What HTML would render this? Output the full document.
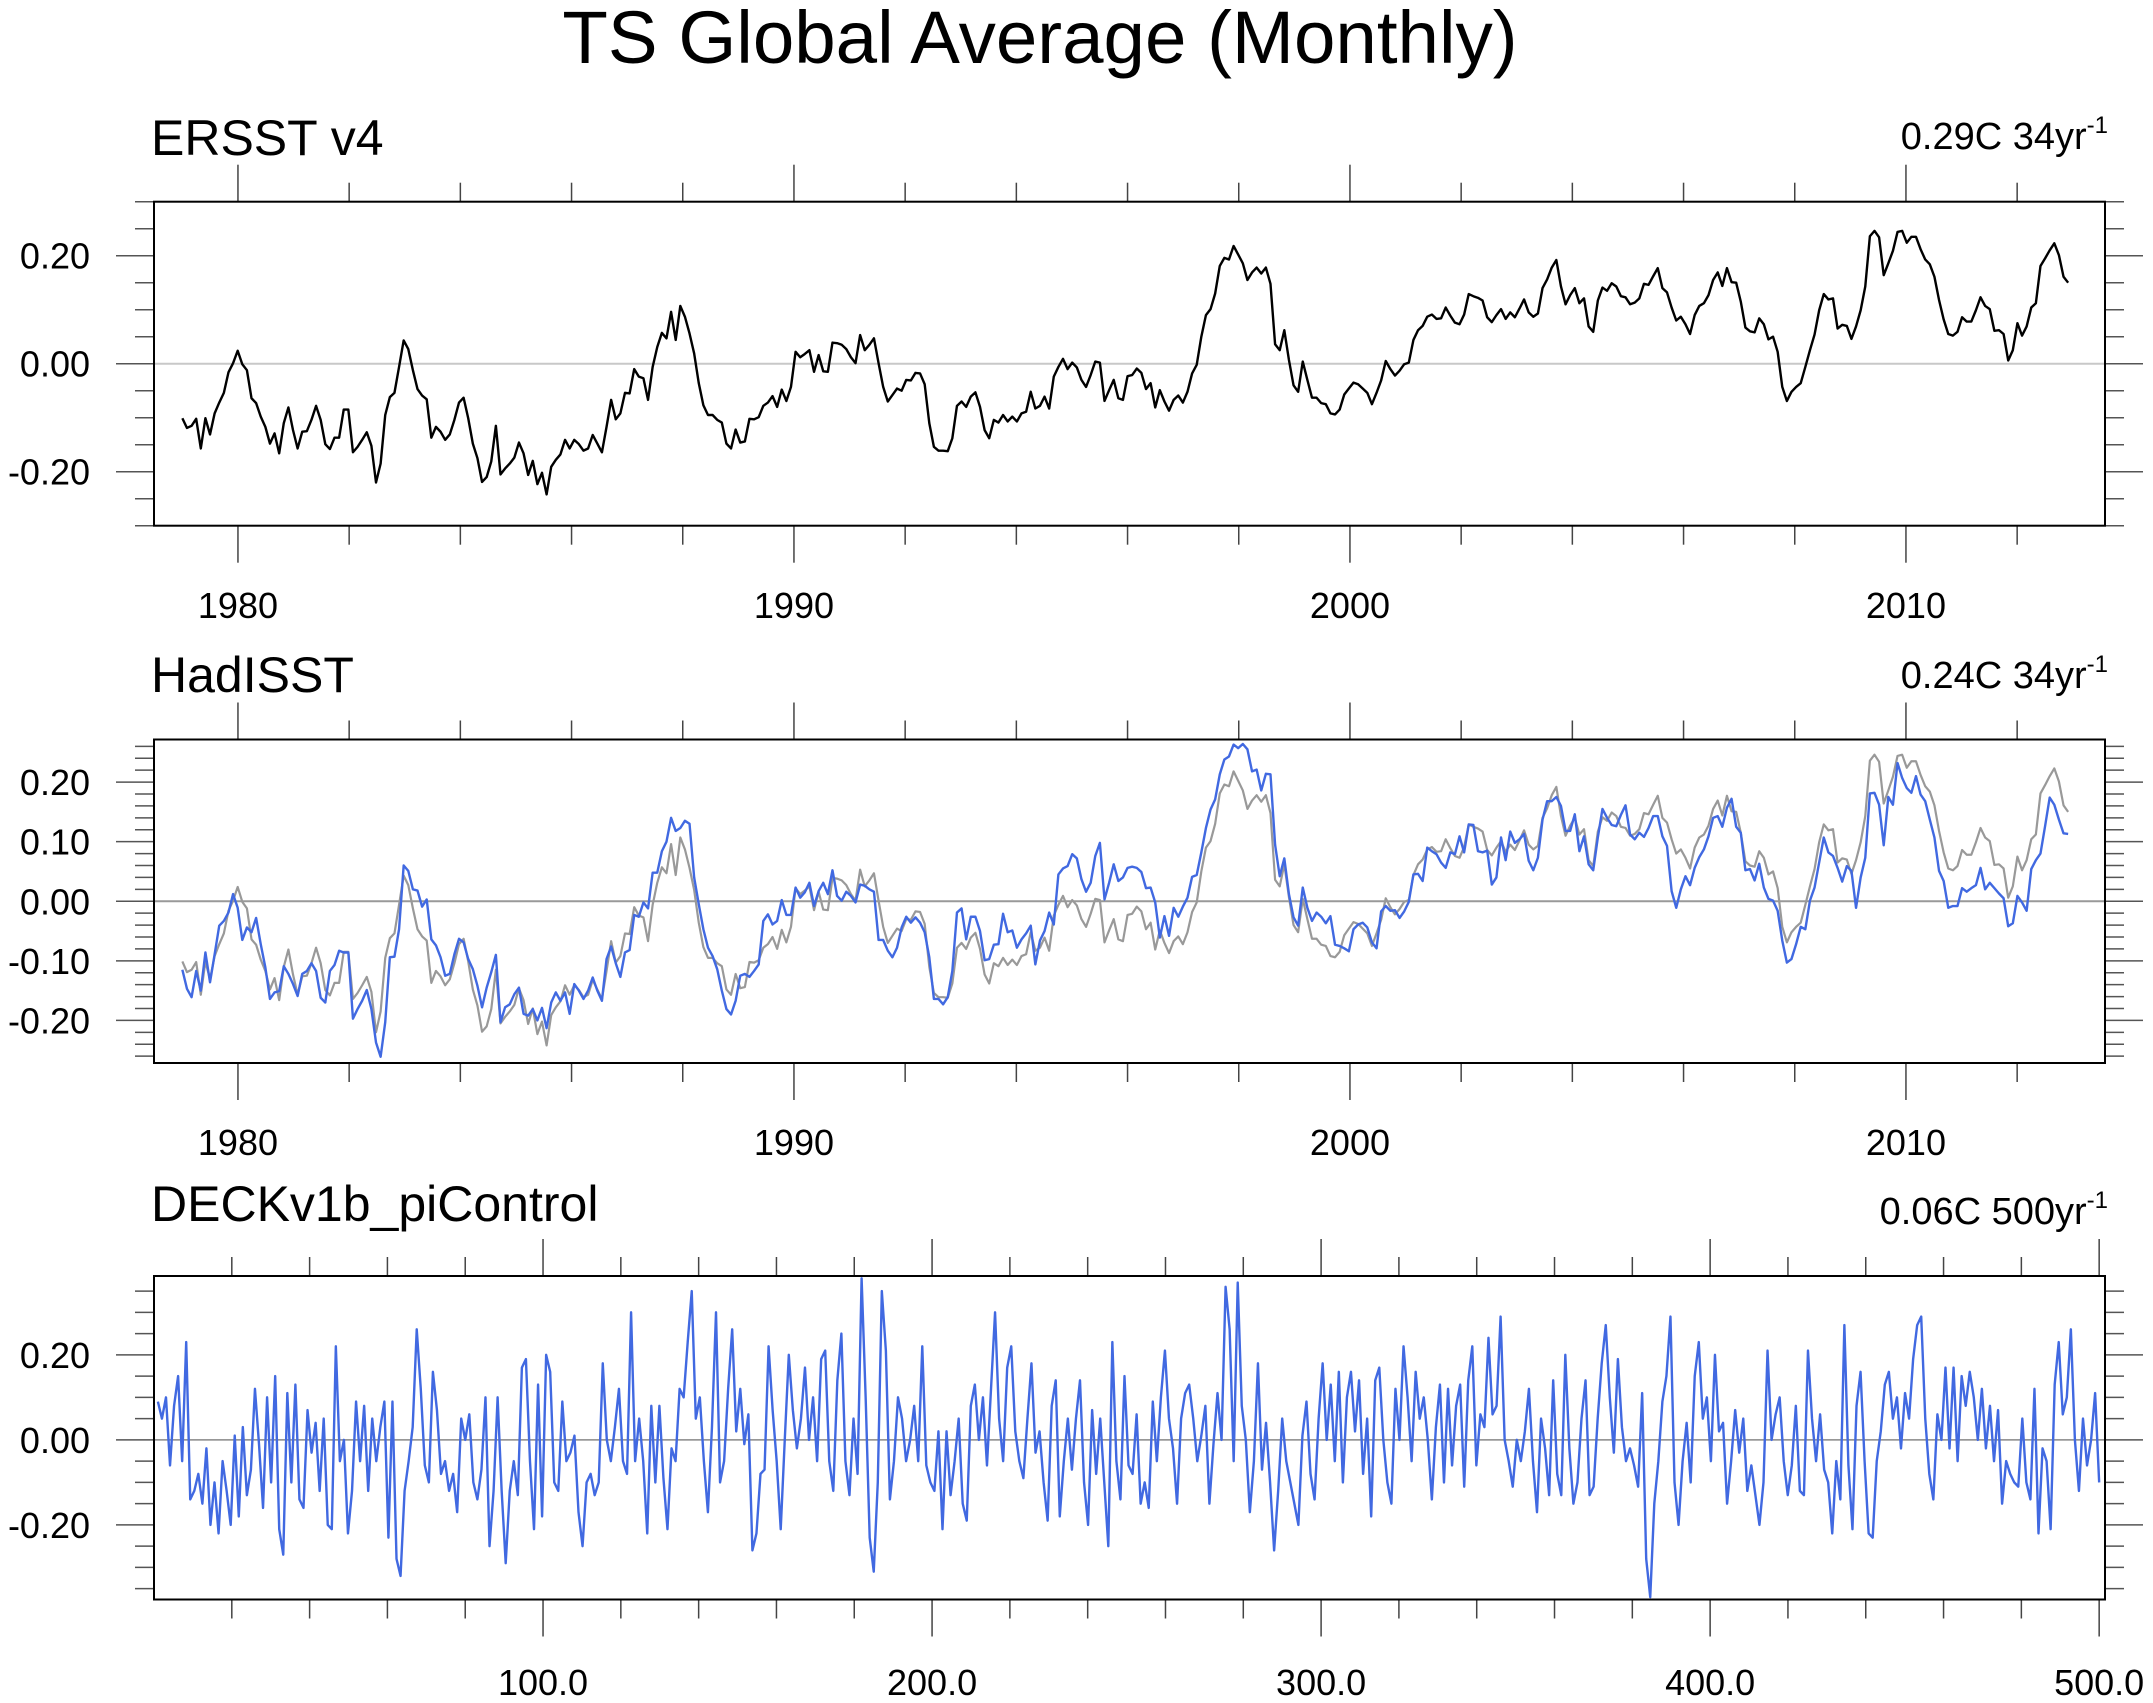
<!DOCTYPE html>
<html><head><meta charset="utf-8"><title>TS Global Average (Monthly)</title>
<style>
html,body{margin:0;padding:0;background:#fff;}
svg{display:block;font-family:"Liberation Sans",Arial,sans-serif;}
</style></head>
<body>
<svg id="chart" width="2153" height="1703" viewBox="0 0 2153 1703" xmlns="http://www.w3.org/2000/svg">
<rect x="0" y="0" width="2153" height="1703" fill="#fff"/>
<text x="1040" y="63" font-size="74.5" text-anchor="middle" fill="#000">TS Global Average (Monthly)</text>
<text x="151" y="155" font-size="50" fill="#000">ERSST v4</text>
<text x="2108" y="149" font-size="38" text-anchor="end" fill="#000">0.29C 34yr<tspan font-size="24" dy="-16">-1</tspan></text>
<text x="151" y="692" font-size="50" fill="#000">HadISST</text>
<text x="2108" y="688" font-size="38" text-anchor="end" fill="#000">0.24C 34yr<tspan font-size="24" dy="-16">-1</tspan></text>
<text x="151" y="1221" font-size="50" fill="#000">DECKv1b_piControl</text>
<text x="2108" y="1224" font-size="38" text-anchor="end" fill="#000">0.06C 500yr<tspan font-size="24" dy="-16">-1</tspan></text>
<g id="plots"></g>
</svg>
<script>
// ---- data ----
const ersstVals = [-0.101,-0.119,-0.115,-0.102,-0.157,-0.101,-0.131,-0.092,-0.072,-0.054,-0.016,0.001,0.024,-0.001,-0.012,-0.064,-0.073,-0.098,-0.117,-0.148,-0.129,-0.166,-0.110,-0.081,-0.123,-0.157,-0.126,-0.125,-0.104,-0.078,-0.104,-0.149,-0.158,-0.137,-0.137,-0.085,-0.085,-0.164,-0.154,-0.141,-0.127,-0.152,-0.220,-0.185,-0.095,-0.062,-0.054,-0.006,0.043,0.027,-0.012,-0.047,-0.059,-0.066,-0.137,-0.117,-0.126,-0.141,-0.131,-0.104,-0.072,-0.063,-0.101,-0.148,-0.175,-0.219,-0.210,-0.181,-0.115,-0.205,-0.194,-0.185,-0.174,-0.146,-0.166,-0.206,-0.180,-0.223,-0.202,-0.242,-0.191,-0.178,-0.168,-0.141,-0.157,-0.141,-0.149,-0.161,-0.157,-0.132,-0.148,-0.164,-0.117,-0.067,-0.103,-0.092,-0.054,-0.055,-0.010,-0.024,-0.027,-0.067,-0.006,0.031,0.057,0.047,0.096,0.044,0.107,0.087,0.056,0.019,-0.036,-0.077,-0.095,-0.095,-0.104,-0.109,-0.148,-0.157,-0.122,-0.146,-0.144,-0.102,-0.103,-0.099,-0.078,-0.072,-0.060,-0.080,-0.048,-0.069,-0.043,0.022,0.012,0.018,0.025,-0.015,0.016,-0.014,-0.015,0.039,0.038,0.035,0.027,0.012,0.001,0.053,0.025,0.035,0.047,0.001,-0.043,-0.070,-0.058,-0.046,-0.050,-0.030,-0.031,-0.017,-0.018,-0.038,-0.110,-0.154,-0.161,-0.161,-0.162,-0.138,-0.078,-0.070,-0.080,-0.061,-0.053,-0.080,-0.123,-0.138,-0.104,-0.109,-0.095,-0.107,-0.098,-0.107,-0.092,-0.089,-0.052,-0.083,-0.078,-0.061,-0.083,-0.024,-0.006,0.009,-0.010,0.002,-0.007,-0.030,-0.043,-0.021,0.004,0.002,-0.069,-0.049,-0.030,-0.064,-0.067,-0.023,
-0.021,-0.009,-0.017,-0.047,-0.036,-0.081,-0.049,-0.070,-0.087,-0.067,-0.059,-0.072,-0.052,-0.018,-0.002,0.050,0.090,0.101,0.130,0.181,0.196,0.193,0.218,0.202,0.186,0.155,0.169,0.178,0.167,0.178,0.148,0.036,0.025,0.062,0.007,-0.040,-0.052,0.004,-0.030,-0.063,-0.063,-0.073,-0.075,-0.092,-0.094,-0.085,-0.057,-0.046,-0.035,-0.038,-0.046,-0.054,-0.075,-0.054,-0.031,0.005,-0.010,-0.022,-0.013,-0.001,0.002,0.044,0.062,0.070,0.087,0.091,0.083,0.084,0.104,0.089,0.076,0.073,0.091,0.129,0.125,0.122,0.117,0.086,0.077,0.090,0.101,0.083,0.095,0.086,0.102,0.119,0.095,0.087,0.093,0.140,0.156,0.178,0.192,0.143,0.110,0.127,0.140,0.112,0.121,0.069,0.059,0.117,0.141,0.135,0.149,0.143,0.125,0.123,0.110,0.113,0.121,0.148,0.146,0.162,0.177,0.140,0.132,0.104,0.080,0.087,0.073,0.055,0.090,0.107,0.112,0.127,0.155,0.169,0.144,0.177,0.151,0.150,0.115,0.067,0.060,0.058,0.084,0.073,0.045,0.050,0.022,-0.043,-0.069,-0.052,-0.043,-0.036,-0.006,0.025,0.054,0.099,0.129,0.119,0.121,0.065,0.072,0.070,0.046,0.069,0.099,0.143,0.236,0.246,0.234,0.164,0.186,0.209,0.244,0.246,0.224,0.235,0.235,0.212,0.193,0.184,0.161,0.118,0.082,0.055,0.052,0.059,0.086,0.078,0.078,0.099,0.123,0.107,0.101,0.061,0.062,0.055,0.006,0.025,0.075,0.052,0.069,0.104,0.112,0.181,0.195,0.210,0.223,0.201,0.161,0.150];

const hadVals = [-0.115,-0.147,-0.161,-0.117,-0.150,-0.086,-0.136,-0.089,-0.041,-0.033,-0.019,0.012,-0.011,-0.065,-0.044,-0.052,-0.028,-0.072,-0.111,-0.164,-0.153,-0.151,-0.109,-0.122,-0.139,-0.159,-0.122,-0.117,-0.104,-0.117,-0.162,-0.170,-0.117,-0.107,-0.083,-0.086,-0.086,-0.197,-0.181,-0.167,-0.149,-0.181,-0.237,-0.261,-0.203,-0.094,-0.093,-0.047,0.060,0.051,0.020,0.018,-0.009,0.003,-0.064,-0.074,-0.094,-0.125,-0.122,-0.089,-0.063,-0.069,-0.097,-0.114,-0.142,-0.178,-0.145,-0.119,-0.090,-0.203,-0.178,-0.173,-0.156,-0.145,-0.189,-0.192,-0.181,-0.200,-0.179,-0.213,-0.170,-0.153,-0.167,-0.153,-0.189,-0.139,-0.150,-0.164,-0.150,-0.128,-0.150,-0.167,-0.097,-0.076,-0.104,-0.127,-0.086,-0.082,-0.023,-0.026,-0.002,-0.012,0.048,0.048,0.084,0.100,0.140,0.118,0.123,0.135,0.130,0.040,-0.005,-0.047,-0.078,-0.092,-0.114,-0.150,-0.181,-0.190,-0.167,-0.125,-0.122,-0.127,-0.117,-0.106,-0.033,-0.022,-0.039,-0.033,0.002,-0.023,-0.023,0.023,0.006,0.015,0.031,-0.008,0.017,0.031,0.012,0.052,0.009,0.001,0.016,0.009,-0.002,0.028,0.026,0.020,0.016,-0.065,-0.065,-0.083,-0.094,-0.078,-0.044,-0.026,-0.036,-0.027,-0.036,-0.052,-0.094,-0.164,-0.164,-0.173,-0.161,-0.117,-0.019,-0.012,-0.064,-0.026,-0.026,-0.050,-0.099,-0.097,-0.073,-0.072,-0.021,-0.052,-0.049,-0.078,-0.064,-0.054,-0.041,-0.106,-0.066,-0.050,-0.019,-0.039,0.045,0.055,0.059,0.079,0.072,0.037,0.016,0.031,0.076,0.098,0.003,0.031,0.062,0.034,0.040,0.056,
0.058,0.056,0.049,0.022,0.023,-0.002,-0.061,-0.025,-0.058,-0.011,-0.026,-0.009,0.006,0.041,0.044,0.082,0.123,0.154,0.171,0.213,0.238,0.243,0.263,0.257,0.264,0.255,0.218,0.221,0.186,0.214,0.213,0.095,0.042,0.072,0.012,-0.027,-0.041,0.023,-0.011,-0.033,-0.019,-0.026,-0.037,-0.025,-0.073,-0.075,-0.079,-0.084,-0.047,-0.039,-0.036,-0.044,-0.069,-0.079,-0.017,-0.008,-0.016,-0.015,-0.028,-0.017,-0.001,0.045,0.046,0.034,0.090,0.084,0.079,0.065,0.056,0.082,0.079,0.109,0.082,0.129,0.128,0.084,0.082,0.085,0.028,0.040,0.107,0.069,0.117,0.098,0.104,0.113,0.068,0.052,0.073,0.137,0.168,0.168,0.175,0.160,0.118,0.118,0.146,0.084,0.109,0.062,0.052,0.107,0.155,0.140,0.128,0.126,0.145,0.161,0.112,0.104,0.115,0.108,0.123,0.143,0.143,0.109,0.093,0.017,-0.011,0.020,0.042,0.027,0.056,0.074,0.087,0.109,0.140,0.143,0.125,0.157,0.172,0.125,0.115,0.052,0.054,0.035,0.063,0.023,0.004,0.001,-0.016,-0.066,-0.103,-0.097,-0.072,-0.043,-0.047,0.001,0.023,0.065,0.107,0.082,0.076,0.056,0.033,0.059,0.051,-0.011,0.040,0.073,0.181,0.182,0.162,0.094,0.175,0.162,0.232,0.207,0.190,0.182,0.210,0.179,0.168,0.137,0.107,0.051,0.034,-0.011,-0.008,-0.008,0.022,0.016,0.022,0.027,0.056,0.020,0.031,0.022,0.013,0.005,-0.042,-0.037,0.009,-0.002,-0.016,0.054,0.069,0.080,0.126,0.174,0.162,0.137,0.114,0.113];

const piVals = [0.09,0.05,0.10,-0.06,0.08,0.15,-0.05,0.23,-0.14,-0.12,-0.08,-0.15,-0.02,-0.20,-0.10,-0.22,-0.05,-0.12,-0.20,0.01,-0.18,0.03,-0.13,-0.07,0.12,-0.01,-0.16,0.10,-0.10,0.15,-0.21,-0.27,0.11,-0.10,0.13,-0.14,-0.16,0.07,-0.03,0.04,-0.12,0.05,-0.20,-0.21,0.22,-0.05,0.00,-0.22,-0.12,0.09,-0.05,0.08,-0.12,0.05,-0.05,0.03,0.09,-0.23,0.09,-0.28,-0.32,-0.12,-0.05,0.03,0.26,0.12,-0.06,-0.10,0.16,0.07,-0.08,-0.05,-0.12,-0.08,-0.17,0.05,0.00,0.06,-0.10,-0.14,-0.07,0.10,-0.25,-0.12,0.10,-0.12,-0.29,-0.12,-0.05,-0.13,0.17,0.19,-0.05,-0.21,0.13,-0.18,0.20,0.16,-0.10,-0.12,0.09,-0.05,-0.03,0.01,-0.17,-0.25,-0.10,-0.08,-0.13,-0.10,0.18,0.00,-0.05,0.03,0.12,-0.05,-0.08,0.30,-0.05,0.05,-0.05,-0.22,0.08,-0.10,0.08,-0.09,-0.21,-0.02,-0.05,0.12,0.10,0.23,0.35,0.05,0.10,-0.05,-0.17,0.03,0.30,-0.10,-0.05,0.12,0.26,0.02,0.12,-0.01,0.06,-0.26,-0.22,-0.08,-0.07,0.22,0.07,-0.05,-0.21,0.00,0.20,0.07,-0.02,0.05,0.17,0.00,0.10,-0.05,
0.19,0.21,-0.05,-0.12,0.14,0.25,-0.05,-0.13,0.05,-0.08,0.38,0.10,-0.23,-0.31,-0.10,0.35,0.21,-0.14,-0.05,0.10,0.05,-0.05,0.00,0.08,-0.05,0.22,-0.06,-0.10,-0.12,0.02,-0.21,0.02,-0.13,-0.05,0.05,-0.15,-0.19,0.08,0.13,0.00,0.10,-0.06,0.12,0.30,0.05,-0.05,0.17,0.22,0.02,-0.05,-0.09,0.05,0.18,-0.03,0.02,-0.10,-0.19,0.08,0.14,-0.18,-0.05,0.05,-0.07,0.05,0.14,-0.10,-0.20,0.07,-0.08,0.05,-0.10,-0.25,0.23,-0.05,-0.14,0.15,-0.06,-0.08,0.06,-0.15,-0.10,-0.16,0.09,-0.05,0.10,0.21,0.05,-0.02,-0.15,0.05,0.11,0.13,0.05,-0.05,0.01,0.08,-0.15,-0.01,0.11,0.00,0.36,0.26,-0.05,0.37,0.08,0.00,-0.17,-0.05,0.18,-0.07,0.04,-0.10,-0.26,-0.12,0.05,-0.05,-0.10,-0.15,-0.20,0.01,0.09,-0.08,-0.14,0.05,0.18,0.00,0.13,-0.05,0.16,-0.10,0.10,0.16,0.02,0.14,-0.08,0.05,-0.18,0.14,0.17,0.00,-0.10,-0.15,0.12,0.00,0.22,0.10,-0.05,0.16,0.05,0.10,
0.00,-0.14,0.03,0.13,-0.10,0.12,-0.06,0.08,0.13,-0.11,0.14,0.22,-0.06,0.06,0.03,0.24,0.06,0.08,0.29,0.00,-0.05,-0.11,0.00,-0.05,0.02,0.12,-0.05,-0.17,0.05,-0.02,-0.13,0.14,-0.08,-0.13,0.20,-0.02,-0.15,-0.10,0.05,0.14,-0.13,-0.11,0.05,0.18,0.27,0.10,-0.03,0.19,0.03,-0.05,-0.02,-0.06,-0.11,0.11,-0.28,-0.37,-0.15,-0.05,0.09,0.15,0.29,-0.10,-0.20,-0.05,0.04,-0.10,0.15,0.23,0.05,0.10,-0.05,0.20,0.02,0.04,-0.15,-0.05,0.07,-0.03,0.05,-0.12,-0.06,-0.13,-0.20,-0.10,0.21,0.00,0.06,0.10,-0.05,-0.13,-0.06,0.08,-0.12,-0.13,0.21,0.05,-0.05,0.06,-0.07,-0.10,-0.22,-0.05,-0.14,0.27,-0.06,-0.21,0.08,0.16,-0.05,-0.22,-0.23,-0.05,0.02,0.13,0.16,0.05,0.10,-0.02,0.11,0.05,0.19,0.27,0.29,0.05,-0.08,-0.14,0.06,0.00,0.17,-0.02,0.17,-0.05,0.15,0.08,0.16,0.10,0.00,0.12,-0.02,0.08,-0.05,0.07,-0.15,-0.05,-0.08,-0.10,-0.11,0.05,-0.10,-0.14,0.12,-0.22,-0.02,-0.05,-0.21,0.13,0.23,0.06,0.10,0.26,0.00,-0.12,0.05,-0.06,0.00,0.11,-0.10];

const yearStart = 1979.0, yearEnd = 2012.917;
const piStart = 1, piEnd = 500;
const yearTicksMajor = [1980, 1990, 2000, 2010];
const yearTickLabels = ["1980", "1990", "2000", "2010"];
const piTicksMajor = [100, 200, 300, 400, 500];
const piTickLabels = ["100.0", "200.0", "300.0", "400.0", "500.0"];
const ersstYTicks = [-0.2, 0, 0.2];
const ersstYLabels = ["-0.20", "0.00", "0.20"];
const hadYTicks = [-0.2, -0.1, 0, 0.1, 0.2];
const hadYLabels = ["-0.20", "-0.10", "0.00", "0.10", "0.20"];
const piYTicks = [-0.2, 0, 0.2];
const piYLabels = ["-0.20", "0.00", "0.20"];

// ---- layout ----
const NS = "http://www.w3.org/2000/svg";
const g = document.getElementById("plots");
const L = 154, R = 2105;
function mk(tag, attrs, parent) {
  const e = document.createElementNS(NS, tag);
  for (const k in attrs) e.setAttribute(k, attrs[k]);
  (parent || g).appendChild(e);
  return e;
}
function makePanel(p) {
  const xs = v => L + (v - p.xmin) / (p.xmax - p.xmin) * (R - L);
  const ys = v => p.bottom - (v - p.ymin) / (p.ymax - p.ymin) * (p.bottom - p.top);
  const grp = mk("g", {});
  
  
  const zl = mk("line", {x1: L, x2: R, y1: ys(0), y2: ys(0), stroke: p.zeroColor, "stroke-width": p.zeroWidth}, grp);
  
  
  for (let v = p.xMinorStart; v <= p.xmax + 1e-9; v += p.xMinorStep) {
    const x = xs(v);
    if (x < L - 0.5 || x > R + 0.5) continue;
    const isMajor = p.xMajor.some(m => Math.abs(m - v) < 1e-6);
    const len = isMajor ? 37 : 19;
    const t1 = mk("line", {x1: x, x2: x, y1: p.top, y2: p.top - len, stroke: "#444", "stroke-width": 1.5}, grp);
    
    
    const t2 = mk("line", {x1: x, x2: x, y1: p.bottom, y2: p.bottom + len, stroke: "#444", "stroke-width": 1.5}, grp);
    
    
  }
  p.xMajor.forEach((v, i) => {
    const t = mk("text", {x: xs(v), y: p.xLabelY, "font-size": 36, "text-anchor": "middle", fill: "#000"}, grp);
    t.textContent = p.xLabels[i];
    
    
  });
  const n0 = Math.ceil(p.ymin / p.yMinorStep - 1e-6), n1 = Math.floor(p.ymax / p.yMinorStep + 1e-6);
  for (let k = n0; k <= n1; k++) {
    const v = k * p.yMinorStep;
    const y = ys(v);
    const isMajor = p.yMajor.some(m => Math.abs(m - v) < 1e-6);
    const len = isMajor ? 38 : 19;
    const a = mk("line", {x1: L, x2: L - len, y1: y, y2: y, stroke: "#555", "stroke-width": 1.5}, grp);
    
    
    const b = mk("line", {x1: R, x2: R + len, y1: y, y2: y, stroke: "#555", "stroke-width": 1.5}, grp);
    
    
  }
  p.yMajor.forEach((v, i) => {
    const t = mk("text", {x: 90, y: ys(v) + 13, "font-size": 36, "text-anchor": "end", fill: "#000"}, grp);
    t.textContent = p.yLabels[i];
    
    
  });
  p.series.forEach(s => {
    const n = s.vals.length;
    let d = "";
    for (let i = 0; i < n; i++) {
      const xv = s.x0 + (s.x1 - s.x0) * i / (n - 1);
      d += (i ? "L" : "M") + xs(xv).toFixed(2) + "," + ys(s.vals[i]).toFixed(2);
    }
    const path = mk("path", {d: d, fill: "none", stroke: s.color, "stroke-width": s.width, "stroke-linejoin": "round"}, grp);
    
    
  });
  const fr = mk("rect", {x: L, y: p.top, width: R - L, height: p.bottom - p.top, fill: "none", stroke: "#000", "stroke-width": 2}, grp);
  
  
}

makePanel({name: "ersst", top: 201.7, bottom: 525.7, ymin: -0.3, ymax: 0.3,
  xmin: 1978.49, xmax: 2013.58, xMajor: yearTicksMajor, xLabels: yearTickLabels, xMinorStart: 1980, xMinorStep: 2, xLabelY: 618,
  yMajor: ersstYTicks, yLabels: ersstYLabels, yMinorStep: 0.05, zeroColor: "#c8c8c8", zeroWidth: 2,
  series: [{name: "ersst-line", vals: ersstVals, x0: yearStart, x1: yearEnd, color: "#000", width: 2.4}]});

makePanel({name: "hadisst", top: 739.5, bottom: 1063, ymin: -0.2715, ymax: 0.2715,
  xmin: 1978.49, xmax: 2013.58, xMajor: yearTicksMajor, xLabels: yearTickLabels, xMinorStart: 1980, xMinorStep: 2, xLabelY: 1155,
  yMajor: hadYTicks, yLabels: hadYLabels, yMinorStep: 0.02, zeroColor: "#999", zeroWidth: 2,
  series: [{name: "ersst-reference-line", vals: ersstVals, x0: yearStart, x1: yearEnd, color: "#999", width: 2.2},
           {name: "hadisst-line", vals: hadVals, x0: yearStart, x1: yearEnd, color: "#4169e1", width: 2.4}]});

makePanel({name: "picontrol", top: 1276, bottom: 1599.5, ymin: -0.3755, ymax: 0.3855,
  xmin: 0, xmax: 501.5, xMajor: piTicksMajor, xLabels: piTickLabels, xMinorStart: 20, xMinorStep: 20, xLabelY: 1695,
  yMajor: piYTicks, yLabels: piYLabels, yMinorStep: 0.05, zeroColor: "#888", zeroWidth: 1.5,
  series: [{name: "picontrol-line", vals: piVals, x0: piStart, x1: piEnd, color: "#4169e1", width: 2.4}]});
</script>
</body></html>
